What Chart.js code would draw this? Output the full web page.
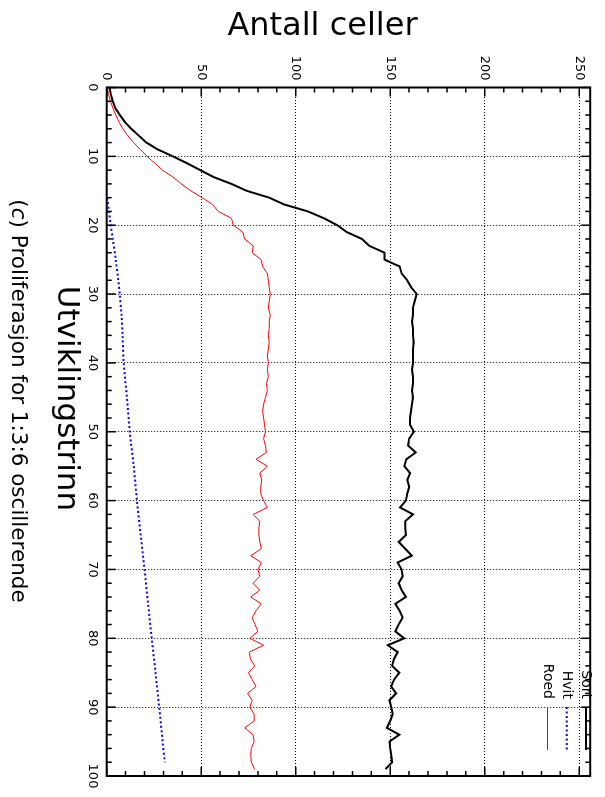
<!DOCTYPE html>
<html><head><meta charset="utf-8">
<script src="https://cdn.jsdelivr.net/npm/chart.js@4/dist/chart.umd.min.js"></script>
<style>
html,body{margin:0;padding:0;background:#fff;overflow:hidden;width:605px;height:797px}
#wrap{position:absolute;left:0;top:0;width:797px;height:605px;transform-origin:0 0;transform:translateX(605px) rotate(90deg);background:#fff}
canvas{display:block}
</style></head>
<body><div id="wrap"><canvas id="c" width="797" height="605" style="width:797px;height:605px"></canvas></div>
<script>
// ---- data ----
const steps = [];
for (let i = 0; i <= 99; i++) steps.push(i);
const sortVals = [1.5,2.2,3.2,4.6,7,9.6,13,17,21,27,35,42.5,49.5,56.5,66,74,86,94,106.5,115,
 122,127,135,139,147,147,155,156,159,161,164,163,162,162,161.5,162,162,162.5,162,162,
 162,161.5,162,162,161.5,162,161.5,161,160.5,160.5,162.5,160,159.5,163.5,158.5,157.5,160.5,159,160,159,
 158.3,155.2,162,157.9,158,158.3,154.5,158,161.4,153.9,156,156.6,154.5,156,158.3,152.7,155,156.6,154.5,152.7,
 157.4,148.7,153.9,152,151,154.8,152,150.5,153.1,149.6,150.5,151.3,150,148.2,154.8,149.6,150,150.5,151,147.5];
const roedVals = [0.3,1,2,3.3,4.8,6.5,8.5,11.2,14.2,17.8,21.3,25.5,29.5,35,39.5,44.5,50.5,56,59,66,
 67,72,73,77.5,77,81.7,82.5,85,85.5,86,86.5,86,85.5,86.5,86,86,85.5,86,85.5,85,
 85.5,85,85.5,84.5,85,84,83,82.5,83,83.5,84,83,84,84.5,79,85,81,82,81.5,81.5,
 83,85,77.5,81,80.5,80.5,81,81.8,76.2,81.8,80,81,77.4,81,76.2,81.8,79,77,78.5,80,
 75.7,83,75.5,76,78.3,75,77,79,74.5,77,75.7,78,78,73,77.4,78,76.5,76.2,76.5,78.3];
const hvitSteps = [16,18,20,22,25,28,30,33,36,40,45,50,55,60,65,70,75,80,85,90,95,98];
const hvitVals  = [0.3,1.2,2.1,3.2,4.8,6.1,6.9,7.8,8.4,9.0,10.7,12.2,14.3,16.0,18.0,20.0,21.9,23.8,25.8,27.8,29.6,30.8];
const xTickLabels = [0,10,20,30,40,50,60,70,80,90,100];
const yTickLabels = [0,50,100,150,200,250];
const seriesNames = ['Sort','Hvit','Roed'];
const xTitle = 'Utviklingstrinn';
const yTitle = 'Antall celler';
const captionLetter = 'c';
const captionText = ' Proliferasjon for 1:3:6 oscillerende';

// ---- chart ----
const FONT = "'DejaVu Sans', sans-serif";
const colors = ['#000000', '#0000ff', '#ff0000'];

const decor = {
  id: 'decor',
  afterDatasetsDraw(chart) {
    const {ctx, chartArea: a, scales: {x, y}} = chart;
    ctx.save();
    ctx.strokeStyle = '#000';
    ctx.lineWidth = 1.5;
    ctx.beginPath();
    for (let v = 0; v <= 100; v += 2) {
      const px = x.getPixelForValue(v);
      const len = v % 10 === 0 ? 9 : 5;
      ctx.moveTo(px, a.bottom); ctx.lineTo(px, a.bottom - len);
      ctx.moveTo(px, a.top); ctx.lineTo(px, a.top + len);
    }
    for (let v = 0; v <= 250; v += 10) {
      const py = y.getPixelForValue(v);
      const len = v % 50 === 0 ? 9 : 5;
      ctx.moveTo(a.left, py); ctx.lineTo(a.left + len, py);
      ctx.moveTo(a.right, py); ctx.lineTo(a.right - len, py);
    }
    ctx.stroke();
    ctx.lineWidth = 2;
    ctx.strokeRect(a.left, a.top, a.right - a.left, a.bottom - a.top);

    // legend
    const rows = [19, 38.3, 57.5];
    ctx.font = '14px ' + FONT;
    ctx.textAlign = 'right';
    ctx.textBaseline = 'middle';
    chart.data.datasets.forEach((ds, i) => {
      ctx.fillStyle = '#000';
      ctx.fillText(ds.label, 699, rows[i]);
      ctx.strokeStyle = ds.borderColor;
      ctx.lineWidth = ds.borderWidth;
      ctx.setLineDash(ds.borderDash || []);
      ctx.beginPath();
      ctx.moveTo(707, rows[i]); ctx.lineTo(750, rows[i]);
      ctx.stroke();
      ctx.setLineDash([]);
    });

    // titles
    ctx.fillStyle = '#000';
    ctx.textBaseline = 'alphabetic';
    ctx.textAlign = 'center';
    ctx.font = '31px ' + FONT;
    ctx.fillText(xTitle, 398.5, 547);
    ctx.save();
    ctx.translate(35, 282.5);
    ctx.rotate(-Math.PI / 2);
    ctx.font = '32px ' + FONT;
    ctx.fillText(yTitle, 0, 0);
    ctx.restore();

    // caption with italic letter
    const fs = 21.5;
    const normal = fs + 'px ' + FONT;
    const italic = 'italic ' + fs + 'px ' + FONT;
    ctx.textAlign = 'left';
    ctx.font = normal; const w1 = ctx.measureText('(').width;
    ctx.font = italic; const w2 = ctx.measureText(captionLetter).width;
    ctx.font = normal; const w3 = ctx.measureText(')' + captionText).width;
    let cx = 401 - (w1 + w2 + w3) / 2;
    const by = 593;
    ctx.font = normal; ctx.fillText('(', cx, by); cx += w1;
    ctx.font = italic; ctx.fillText(captionLetter, cx, by); cx += w2;
    ctx.font = normal; ctx.fillText(')' + captionText, cx, by);
    ctx.restore();
  }
};

const mk = (xs, ys) => xs.map((v, i) => ({x: v, y: ys[i]}));

new Chart(document.getElementById('c'), {
  type: 'line',
  data: {
    datasets: [
      {label: seriesNames[0], data: mk(steps, sortVals), borderColor: colors[0], borderWidth: 2, pointRadius: 0, tension: 0, fill: false},
      {label: seriesNames[1], data: mk(hvitSteps, hvitVals), borderColor: colors[1], borderWidth: 2, borderDash: [2, 2.5], pointRadius: 0, tension: 0.3, fill: false},
      {label: seriesNames[2], data: mk(steps, roedVals), borderColor: colors[2], borderWidth: 1, pointRadius: 0, tension: 0, fill: false}
    ]
  },
  options: {
    responsive: false,
    animation: false,
    devicePixelRatio: 1,
    layout: {padding: {top: 8, right: 21, left: 0, bottom: 0}},
    plugins: {legend: {display: false}, tooltip: {enabled: false}, title: {display: false}},
    scales: {
      x: {
        type: 'linear', position: 'bottom', min: 0, max: 100,
        afterBuildTicks: s => { s.ticks = xTickLabels.map(v => ({value: v})); },
        afterFit: s => { s.height = 106.7; },
        ticks: {color: '#000', padding: 7, maxRotation: 0, autoSkip: false, font: {family: FONT, size: 13}},
        grid: {color: '#000', lineWidth: 1, drawTicks: false},
        border: {display: false, dash: [1, 2]}
      },
      y: {
        type: 'linear', position: 'left', min: 0, max: 255.8,
        afterBuildTicks: s => { s.ticks = yTickLabels.map(v => ({value: v})); },
        afterFit: s => { s.width = 87.5; },
        ticks: {color: '#000', padding: 7, autoSkip: false, font: {family: FONT, size: 13}},
        grid: {color: '#000', lineWidth: 1, drawTicks: false},
        border: {display: false, dash: [1, 2]}
      }
    }
  },
  plugins: [decor]
});
</script>
</body></html>
